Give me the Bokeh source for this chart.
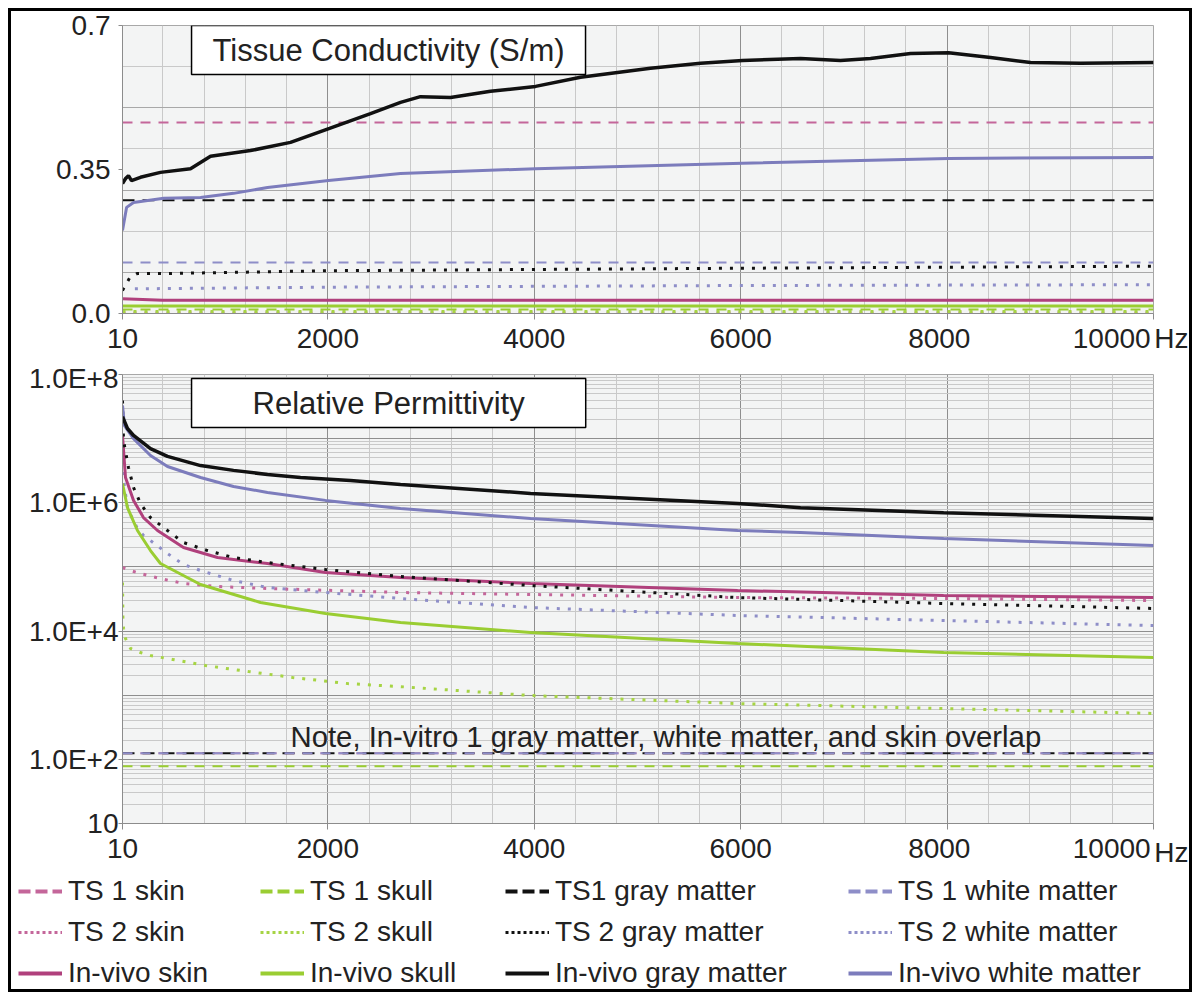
from bokeh.plotting import figure
from bokeh.models import FixedTicker, Label, Legend, LegendItem, Range1d, Title
from bokeh.layouts import column
from bokeh.embed import file_html
from bokeh.resources import INLINE

FONT = "Liberation Sans"
TXT = "#222222"

# ---------------- data ----------------
freq_ticks = [10, 2000, 4000, 6000, 8000, 10000]
freq_span = [10, 10000]

# Tissue conductivity (S/m)
cond_f_gm_vivo = [10, 40, 68, 97, 184, 378, 669, 863, 1250, 1638, 2016, 2413, 2704, 2897, 3188,
                  3576, 4012, 4448, 5126, 5611, 6018, 6580, 6967, 7258, 7646, 8014, 8421, 8809, 9294, 10000]
cond_gm_vivo = [0.316, 0.328, 0.335, 0.323, 0.331, 0.343, 0.352, 0.382, 0.396, 0.416, 0.450, 0.486, 0.513,
                0.527, 0.525, 0.540, 0.552, 0.574, 0.596, 0.608, 0.615, 0.620, 0.615, 0.620, 0.632, 0.634,
                0.622, 0.610, 0.608, 0.610]
cond_f_wm_vivo = [10, 50, 117, 410, 766, 1086, 1415, 2006, 2704, 4012, 6018, 8014, 10000]
cond_wm_vivo = [0.202, 0.258, 0.270, 0.280, 0.282, 0.292, 0.306, 0.323, 0.340, 0.352, 0.365, 0.377, 0.379]
cond_f_skin_vivo = [10, 400, 10000]
cond_skin_vivo = [0.036, 0.032, 0.032]
cond_skull_vivo = [0.018, 0.018]
cond_f_gm_ts2 = [10, 80, 150, 400, 2000, 6000, 10000]
cond_gm_ts2 = [0.056, 0.087, 0.097, 0.097, 0.104, 0.110, 0.115]
cond_f_wm_ts2 = [130, 2000, 6000, 10000]
cond_wm_ts2 = [0.060, 0.064, 0.068, 0.070]
cond_skin_ts2 = [0.001, 0.001]
cond_skull_ts2 = [0.005, 0.005]
cond_skin_ts1 = [0.464, 0.464]
cond_skull_ts1 = [0.010, 0.010]
cond_gm_ts1 = [0.275, 0.275]
cond_wm_ts1 = [0.124, 0.124]

# Relative permittivity
perm_f_gm_vivo = [10, 58, 117, 281, 446, 766, 1086, 1415, 1735, 2219, 2704, 3964, 5970, 6580, 7966, 10000]
perm_gm_vivo = [2.2e7, 1.44e7, 1.12e7, 7.0e6, 5.3e6, 3.8e6, 3.2e6, 2.76e6, 2.48e6, 2.22e6, 1.93e6,
                1.40e6, 9.75e5, 8.4e5, 7.0e5, 5.7e5]
perm_f_wm_vivo = [10, 29, 117, 281, 446, 766, 1086, 1415, 1977, 2704, 3964, 5970, 6580, 7966, 10000]
perm_wm_vivo = [3.29e7, 1.60e7, 1.00e7, 5.46e6, 3.68e6, 2.48e6, 1.79e6, 1.45e6, 1.09e6, 8.15e5,
                5.69e5, 3.70e5, 3.44e5, 2.77e5, 2.16e5]
perm_f_skin_vivo = [10, 39, 117, 213, 349, 601, 931, 1415, 1977, 2704, 3964, 5970, 7966, 10000]
perm_skin_vivo = [1.12e7, 2.48e6, 1.09e6, 5.89e5, 3.70e5, 2.01e5, 1.40e5, 1.13e5, 8.18e4, 6.84e4,
                  5.52e4, 4.29e4, 3.58e4, 3.33e4]
perm_f_skull_vivo = [10, 58, 155, 281, 378, 766, 1347, 1977, 2704, 3964, 5970, 7966, 10000]
perm_skull_vivo = [2.0e6, 8.43e5, 3.70e5, 1.80e5, 1.13e5, 5.32e4, 2.79e4, 1.88e4, 1.36e4, 9.51e3,
                   6.40e3, 4.63e3, 3.87e3]
perm_f_gm_ts2 = [10, 20, 68, 117, 184, 281, 446, 601, 834, 1086, 1415, 1977, 2704, 3964, 5970, 7966, 10000]
perm_gm_ts2 = [3.94e7, 9.35e6, 3.55e6, 1.73e6, 9.75e5, 5.89e5, 3.70e5, 2.40e5, 1.80e5, 1.40e5, 1.17e5,
               9.12e4, 7.10e4, 5.13e4, 3.33e4, 2.69e4, 2.25e4]
perm_f_wm_ts2 = [10, 60, 155, 213, 281, 446, 601, 766, 1086, 1415, 1977, 2704, 3964, 5970, 7966, 10000]
perm_wm_ts2 = [3.0e6, 8.0e5, 3.98e5, 3.09e5, 2.58e5, 1.62e5, 1.09e5, 8.79e4, 6.14e4, 4.78e4, 3.99e4,
               3.22e4, 2.33e4, 1.75e4, 1.46e4, 1.22e4]
perm_f_skin_ts2 = [10, 88, 184, 378, 601, 931, 1415, 2054, 2704, 3964, 5970, 7966, 10000]
perm_skin_ts2 = [9.79e4, 8.79e4, 7.89e4, 6.59e4, 5.52e4, 4.95e4, 4.61e4, 4.29e4, 3.99e4, 3.72e4,
                 3.33e4, 3.22e4, 2.99e4]
perm_f_skull_ts2 = [10, 14, 20, 39, 88, 184, 281, 495, 814, 1231, 1657, 2190, 2704, 3964, 5970, 7966, 10000]
perm_skull_ts2 = [5.70e4, 1.62e4, 1.10e4, 7.66e3, 5.35e3, 4.63e3, 4.16e3, 3.61e3, 2.90e3, 2.34e3,
                  1.89e3, 1.52e3, 1.36e3, 9.89e2, 7.41e2, 6.19e2, 5.19e2]
perm_skin_ts1 = [125, 125]
perm_gm_ts1 = [125, 125]
perm_wm_ts1 = [125, 125]
perm_skull_ts1 = [78, 78]

cond_ticks = [0, 0.35, 0.7]
perm_ticks = [10, 1e2, 1e4, 1e6, 1e8]
perm_tick_labels = {10: "10", 100: "1.0E+2", 10000: "1.0E+4", 1000000: "1.0E+6", 100000000: "1.0E+8"}
# the last frequency labels are followed by spaces so that the unit "Hz" fits beside them
freq_tick_labels = {8000: "8000  ", 10000: "10000" + " " * 5}

legend_cols = [
    ["TS 1 skin", "TS 2 skin", "In-vivo skin"],
    ["TS 1 skull", "TS 2 skull", "In-vivo skull"],
    ["TS1 gray matter", "TS 2 gray matter", "In-vivo gray matter"],
    ["TS 1 white matter", "TS 2 white matter", "In-vivo white matter"],
]

# permittivity series by legend name
PERM = {
    "TS 1 skin": (freq_span, perm_skin_ts1),
    "TS 1 skull": (freq_span, perm_skull_ts1),
    "TS1 gray matter": (freq_span, perm_gm_ts1),
    "TS 1 white matter": (freq_span, perm_wm_ts1),
    "TS 2 skin": (perm_f_skin_ts2, perm_skin_ts2),
    "TS 2 skull": (perm_f_skull_ts2, perm_skull_ts2),
    "TS 2 gray matter": (perm_f_gm_ts2, perm_gm_ts2),
    "TS 2 white matter": (perm_f_wm_ts2, perm_wm_ts2),
    "In-vivo skin": (perm_f_skin_vivo, perm_skin_vivo),
    "In-vivo skull": (perm_f_skull_vivo, perm_skull_vivo),
    "In-vivo gray matter": (perm_f_gm_vivo, perm_gm_vivo),
    "In-vivo white matter": (perm_f_wm_vivo, perm_wm_vivo),
}

# ---------------- styles ----------------
C_SKIN = "#B0407C"
C_SKIN_D = "#C4669A"
C_SKULL = "#9ACD32"
C_SKULL_D = "#A6D444"
C_GM = "#111111"
C_WM = "#7C7CBC"
C_WM_D = "#8E8EC8"
DASH = "10 8"
DOT = "3 8"

STY = {
    "TS 1 skin": dict(line_color=C_SKIN_D, line_width=2, line_dash=DASH),
    "TS 1 skull": dict(line_color=C_SKULL, line_width=2, line_dash=DASH),
    "TS1 gray matter": dict(line_color=C_GM, line_width=2, line_dash="12 8"),
    "TS 1 white matter": dict(line_color=C_WM_D, line_width=2, line_dash=DASH),
    "TS 2 skin": dict(line_color=C_SKIN_D, line_width=3, line_dash=DOT),
    "TS 2 skull": dict(line_color=C_SKULL_D, line_width=3, line_dash=DOT),
    "TS 2 gray matter": dict(line_color=C_GM, line_width=3, line_dash=DOT),
    "TS 2 white matter": dict(line_color=C_WM_D, line_width=3, line_dash=DOT),
    "In-vivo skin": dict(line_color=C_SKIN, line_width=3),
    "In-vivo skull": dict(line_color=C_SKULL, line_width=3),
    "In-vivo gray matter": dict(line_color=C_GM, line_width=3.5),
    "In-vivo white matter": dict(line_color=C_WM, line_width=3),
}
# legend glyphs drawn a little heavier, as in the reference
LEG_STY = {
    "TS 1 skin": dict(line_color=C_SKIN_D, line_width=4, line_dash="12 5"),
    "TS 1 skull": dict(line_color=C_SKULL, line_width=4, line_dash="12 5"),
    "TS1 gray matter": dict(line_color=C_GM, line_width=4, line_dash="12 5"),
    "TS 1 white matter": dict(line_color=C_WM_D, line_width=4, line_dash="12 5"),
    "TS 2 skin": dict(line_color=C_SKIN_D, line_width=3, line_dash="3 3"),
    "TS 2 skull": dict(line_color=C_SKULL_D, line_width=3, line_dash="3 3"),
    "TS 2 gray matter": dict(line_color=C_GM, line_width=3, line_dash="3 3"),
    "TS 2 white matter": dict(line_color=C_WM_D, line_width=3, line_dash="3 3"),
    "In-vivo skin": dict(line_color=C_SKIN, line_width=4),
    "In-vivo skull": dict(line_color=C_SKULL, line_width=4),
    "In-vivo gray matter": dict(line_color=C_GM, line_width=4),
    "In-vivo white matter": dict(line_color=C_WM, line_width=4),
}

GRID_MINOR = "#C9C9C9"
GRID_MAJOR = "#8E8E8E"
BG = "#F3F4F4"

minor_x = [400 * k for k in range(1, 25) if (400 * k) % 2000 != 0]


def style_fig(p):
    p.background_fill_color = BG
    p.border_fill_color = "white"
    p.outline_line_color = "#A8A8A8"
    p.xaxis.ticker = FixedTicker(ticks=freq_ticks, minor_ticks=[])
    p.xaxis.major_label_overrides = freq_tick_labels
    p.xgrid.ticker = FixedTicker(ticks=[2000, 4000, 6000, 8000, 10000], minor_ticks=minor_x)
    p.xgrid.grid_line_color = GRID_MAJOR
    p.xgrid.minor_grid_line_color = GRID_MINOR
    for ax in (p.xaxis[0], p.yaxis[0]):
        ax.axis_line_color = "#8C8C8C"
        ax.major_tick_line_color = "#8C8C8C"
        ax.minor_tick_line_color = None
        ax.major_tick_in = 0
        ax.major_label_text_font = FONT
        ax.major_label_text_font_size = "28px"
        ax.major_label_text_color = TXT
    p.xaxis.major_tick_out = 6
    p.xaxis.major_label_standoff = 3


def hz_title(standoff):
    return Title(text="Hz", align="right", offset=-35, standoff=standoff, vertical_align="top",
                 text_font=FONT, text_font_size="28px", text_font_style="normal", text_color=TXT)


# ---------------- top: conductivity ----------------
p1 = figure(frame_width=1031, frame_height=288, output_backend="svg", toolbar_location=None,
            x_range=Range1d(10, 10000), y_range=Range1d(0, 0.7),
            min_border_left=111, min_border_right=36, min_border_top=14, min_border_bottom=49)
style_fig(p1)
p1.yaxis.ticker = FixedTicker(ticks=cond_ticks, minor_ticks=[])
p1.yaxis.major_label_overrides = {0: "0.0"}
p1.yaxis.major_tick_out = 4
p1.yaxis.major_label_standoff = 8
p1.ygrid.ticker = FixedTicker(ticks=[0.1, 0.3, 0.5], minor_ticks=[0.2, 0.4, 0.6])
p1.ygrid.grid_line_color = "#A8A8A8"
p1.ygrid.minor_grid_line_color = GRID_MINOR

p1.line(freq_span, cond_skin_ts1, **STY["TS 1 skin"])
p1.line(freq_span, cond_gm_ts1, **STY["TS1 gray matter"])
p1.line(freq_span, cond_wm_ts1, **STY["TS 1 white matter"])
p1.line(freq_span, cond_skull_ts1, **STY["TS 1 skull"])
p1.line(freq_span, cond_skin_ts2, **STY["TS 2 skin"])
p1.line(freq_span, cond_skull_ts2, **STY["TS 2 skull"])
p1.line(cond_f_gm_ts2, cond_gm_ts2, **STY["TS 2 gray matter"])
p1.line(cond_f_wm_ts2, cond_wm_ts2, **STY["TS 2 white matter"])
p1.line(freq_span, cond_skull_vivo, **STY["In-vivo skull"])
p1.line(cond_f_skin_vivo, cond_skin_vivo, **STY["In-vivo skin"])
p1.line(cond_f_wm_vivo, cond_wm_vivo, **STY["In-vivo white matter"])
p1.line(cond_f_gm_vivo, cond_gm_vivo, **STY["In-vivo gray matter"])

p1.add_layout(Label(x=679, y=0.7, y_offset=0, text="Tissue Conductivity (S/m)",
                    text_font=FONT, text_font_size="31px", text_color=TXT,
                    text_baseline="top", text_align="left",
                    padding=dict(left=21, right=21, top=7, bottom=7),
                    border_line_color="black", border_line_width=1.5,
                    background_fill_color="white"))
p1.add_layout(hz_title(-68), "below")

# ---------------- bottom: permittivity ----------------
p2 = figure(frame_width=1031, frame_height=449, output_backend="svg", toolbar_location=None,
            x_range=Range1d(10, 10000), y_range=Range1d(10, 1e8), y_axis_type="log",
            min_border_left=107, min_border_right=40, min_border_top=12, min_border_bottom=49)
style_fig(p2)
p2.yaxis.ticker = FixedTicker(ticks=perm_ticks, minor_ticks=[])
p2.yaxis.major_label_overrides = perm_tick_labels
p2.yaxis.major_tick_out = 4
p2.yaxis.major_label_standoff = 0
decades = [10 ** d for d in range(1, 9)]
minor_y = [m * 10 ** d for d in range(1, 8) for m in range(2, 10)]
p2.ygrid.ticker = FixedTicker(ticks=decades, minor_ticks=minor_y)
p2.ygrid.grid_line_color = GRID_MAJOR
p2.ygrid.minor_grid_line_color = GRID_MINOR

draw_order = ["TS 1 skin", "TS1 gray matter", "TS 1 white matter", "TS 1 skull", "TS 2 skull",
              "TS 2 skin", "TS 2 white matter", "In-vivo skull", "In-vivo skin", "TS 2 gray matter",
              "In-vivo white matter", "In-vivo gray matter"]
for nm in draw_order:
    xs, ys = PERM[nm]
    p2.line(xs, ys, **STY[nm])

p2.add_layout(Label(x=679, y=1e8, y_offset=-4, text="Relative Permittivity",
                    text_font=FONT, text_font_size="31px", text_color=TXT,
                    text_baseline="top", text_align="left",
                    padding=dict(left=61, right=61, top=7, bottom=7),
                    border_line_color="black", border_line_width=1.5,
                    background_fill_color="white"))
p2.add_layout(Label(x=1638, y=227, text="Note, In-vitro 1 gray matter, white matter, and skin overlap",
                    text_font=FONT, text_font_size="29.3px", text_color=TXT,
                    text_baseline="alphabetic", text_align="left"))
p2.add_layout(hz_title(-60), "below")

# ---------------- legend strip ----------------
# the legend's own strip: the series are drawn here too, but with a view range that keeps
# them out of sight, so only their legend glyphs show
p3 = figure(frame_width=1178, frame_height=117, output_backend="svg", toolbar_location=None,
            x_range=Range1d(-2, -1), y_range=Range1d(-2, -1),
            x_axis_location=None, y_axis_location=None,
            min_border_left=0, min_border_right=0, min_border_top=0, min_border_bottom=0)
p3.grid.visible = False
p3.outline_line_color = None
p3.background_fill_color = "white"

col_x = [7, 249, 494, 837]
for cx, names in zip(col_x, legend_cols):
    its = []
    for nm in names:
        xs, ys = PERM[nm]
        r = p3.line(xs, ys, **LEG_STY[nm])
        its.append(LegendItem(label=nm, renderers=[r]))
    p3.add_layout(Legend(items=its, location=(cx, 0), orientation="vertical",
                         label_text_font=FONT, label_text_font_size="28px", label_text_color=TXT,
                         glyph_width=44, glyph_height=32, label_height=32, label_standoff=6,
                         spacing=9, padding=0, margin=0, border_line_color=None,
                         background_fill_alpha=0))

layout = column(p1, p2, p3, styles={"border": "3px solid black", "margin": "8px 0 0 8px"})

open("out.html", "w").write(file_html(layout, INLINE))
